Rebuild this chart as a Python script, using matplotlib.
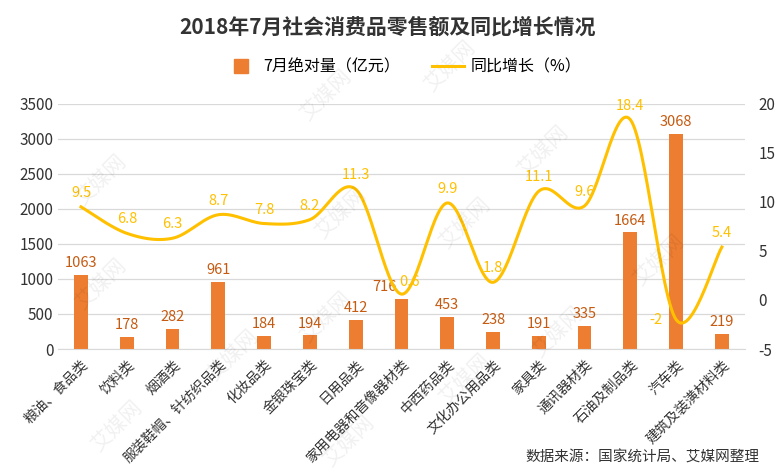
import numpy as np
import matplotlib
matplotlib.use("Agg")
import matplotlib.pyplot as plt
from matplotlib.lines import Line2D

plt.rcParams['font.family'] = ['Noto Sans CJK SC', 'DejaVu Sans']
plt.rcParams['axes.unicode_minus'] = False

categories = ["粮油、食品类", "饮料类", "烟酒类", "服装鞋帽、针纺织品类", "化妆品类",
              "金银珠宝类", "日用品类", "家用电器和音像器材类", "中西药品类",
              "文化办公用品类", "家具类", "通讯器材类", "石油及制品类", "汽车类",
              "建筑及装潢材料类"]
amount = [1063, 178, 282, 961, 184, 194, 412, 716, 453, 238, 191, 335, 1664, 3068, 219]
growth = [9.5, 6.8, 6.3, 8.7, 7.8, 8.2, 11.3, 0.6, 9.9, 1.8, 11.1, 9.6, 18.4, -2, 5.4]

BAR_C = "#ED7D31"
LINE_C = "#FFC000"


def smooth(xs, ys, n=30):
    # catmull-rom style curve like excel's smoothed line
    xs = np.asarray(xs, float)
    ys = np.asarray(ys, float)
    px, py = [], []
    for i in range(len(xs) - 1):
        x0, y0 = (xs[i - 1], ys[i - 1]) if i > 0 else (xs[i], ys[i])
        x3, y3 = (xs[i + 2], ys[i + 2]) if i + 2 < len(xs) else (xs[i + 1], ys[i + 1])
        x1, y1, x2, y2 = xs[i], ys[i], xs[i + 1], ys[i + 1]
        c1x, c1y = x1 + (x2 - x0) / 6, y1 + (y2 - y0) / 6
        c2x, c2y = x2 - (x3 - x1) / 6, y2 - (y3 - y1) / 6
        t = np.linspace(0, 1, n)
        b = [(1 - t) ** 3, 3 * (1 - t) ** 2 * t, 3 * (1 - t) * t ** 2, t ** 3]
        px.extend(b[0] * x1 + b[1] * c1x + b[2] * c2x + b[3] * x2)
        py.extend(b[0] * y1 + b[1] * c1y + b[2] * c2y + b[3] * y2)
    return np.array(px), np.array(py)


fig = plt.figure(figsize=(7.75, 4.74), dpi=100)
ax = fig.add_axes([0.075, 0.2637, 0.886, 0.517])
ax2 = ax.twinx()

x = np.arange(len(categories))
ax.bar(x, amount, width=0.3, color=BAR_C, zorder=2)
ax.set_xlim(-0.5, len(categories) - 0.5)
ax.set_ylim(0, 3500)
ax.set_yticks(np.arange(0, 3501, 500))
ax.grid(axis='y', color="#D9D9D9", linewidth=0.9, zorder=0)
ax.set_axisbelow(True)
for s in ['top', 'left', 'right']:
    ax.spines[s].set_visible(False)
    ax2.spines[s].set_visible(False)
ax.spines['bottom'].set_color("#D9D9D9")
ax2.spines['bottom'].set_visible(False)
ax.tick_params(axis='both', length=0, labelsize=11, colors="#333333")
ax.set_xticks(x)
ax.set_xticklabels(categories, rotation=45, ha='right', rotation_mode='anchor', fontsize=10)
ax.tick_params(axis='x', pad=6)

for xi, v in zip(x, amount):
    dx = -0.38 if v == 716 else 0
    ax.text(xi + dx, v + 70, str(v), ha='center', va='bottom', fontsize=10.5,
            color="#C55A11", zorder=4)

sx, sy = smooth(x, growth)
ax2.plot(sx, sy, color=LINE_C, linewidth=2.2, zorder=3)
ax2.set_ylim(-5, 20)
ax2.set_yticks(np.arange(-5, 21, 5))
ax2.tick_params(axis='y', length=0, labelsize=11, colors="#333333", pad=10)
for xi, v in zip(x, growth):
    lbl = "{:g}".format(v)
    if v < 0:
        ax2.text(xi - 0.3, v, lbl, ha='right', va='center', fontsize=10.5, color=LINE_C)
    elif v < 1:
        ax2.text(xi + 0.18, v + 0.5, lbl, ha='center', va='bottom', fontsize=10.5,
                 color=LINE_C, zorder=5)
    else:
        ax2.text(xi, v + 0.7, lbl, ha='center', va='bottom', fontsize=10.5, color=LINE_C)

# watermark
for wx, wy in [(0.13, 0.62), (0.42, 0.80), (0.44, 0.55), (0.58, 0.86), (0.60, 0.53),
               (0.13, 0.40), (0.42, 0.33), (0.70, 0.68), (0.85, 0.45),
               (0.15, 0.10), (0.45, 0.07), (0.60, 0.20), (0.72, 0.30), (0.30, 0.25)]:
    fig.text(wx, wy, "艾媒网", rotation=45, fontsize=15, color="#000000", alpha=0.06,
             ha='center', va='center')

fig.suptitle("2018年7月社会消费品零售额及同比增长情况", y=0.965, fontsize=15,
             fontweight='bold', color="#333333")

handles = [Line2D([], [], marker='s', color=BAR_C, linestyle='None', markersize=10),
           Line2D([], [], color=LINE_C, linewidth=2.2)]
fig.legend(handles, ["7月绝对量（亿元）", "同比增长（%）"], loc='center',
           bbox_to_anchor=(0.52, 0.858), ncol=2, frameon=False, fontsize=11.5,
           handlelength=2.0, handletextpad=0.4, columnspacing=2.0)

fig.text(0.98, 0.035, "数据来源：国家统计局、艾媒网整理", ha='right', va='center',
         fontsize=10.5, color="#333333")

fig.savefig("out.png", dpi=100)
